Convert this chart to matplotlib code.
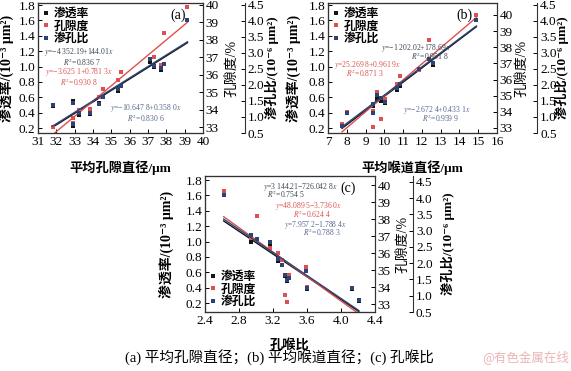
import numpy as np
import matplotlib
matplotlib.use("Agg")
import matplotlib.pyplot as plt
from matplotlib.lines import Line2D

plt.rcParams['font.family'] = ['Liberation Serif', 'Noto Sans CJK SC', 'DejaVu Sans']
plt.rcParams['mathtext.fontset'] = 'stix'
plt.rcParams['axes.unicode_minus'] = False

# -- (a) mean pore diameter
pore_d = [31.8, 32.9, 32.9, 33.25, 33.85, 34.3, 34.55, 35.35, 35.55, 37.1, 37.3, 37.7, 37.85, 39.15]
perm_a = [0.48, 0.55, 0.22, 0.37, 0.38, 0.52, 0.60, 0.68, 0.74, 1.06, 1.00, 0.95, 1.03, 1.60]
poro_a = [33.03, 33.52, 33.21, 33.96, 34.05, 34.71, 35.19, 35.68, 36.16, 36.9, 37.04, 36.57, 38.41, 39.87]
ratio_a = [1.38, 1.45, 0.78, 1.13, 1.13, 1.40, 1.64, 1.86, 1.98, 2.82, 2.58, 2.53, 2.65, 4.02]

# -- (b) mean throat diameter
throat_d = [7.75, 8.0, 9.4, 9.4, 9.6, 9.8, 10.05, 10.65, 10.85, 11.85, 12.4, 12.6, 14.9]
perm_b = [0.22, 0.40, 0.48, 0.40, 0.58, 0.55, 0.53, 0.69, 0.75, 0.97, 1.10, 1.02, 1.60]
poro_b = [33.24, 34.0, 34.05, 33.09, 35.24, 33.57, 34.81, 35.7, 36.24, 36.62, 38.47, 37.04, 40.0]
ratio_b = [0.72, 1.14, 1.42, 1.12, 1.68, 1.59, 1.47, 1.90, 2.02, 2.49, 2.80, 2.70, 4.03]

# -- (c) pore-throat ratio
pt_ratio = [2.62, 2.94, 3.01, 3.17, 3.26, 3.31, 3.34, 3.36, 3.39, 3.59, 3.60, 4.13, 4.21]
perm_c = [1.60, 1.00, 1.03, 0.96, 0.74, 0.69, 0.55, 0.48, 0.52, 0.61, 0.38, 0.38, 0.22]
poro_c = [39.64, 36.89, 38.2, 36.3, 36.03, 35.58, 33.54, 33.09, 34.72, 35.17, 33.99, 33.95, 33.23]
ratio_c = [4.09, 2.86, 2.74, 2.64, 2.12, 1.96, 1.63, 1.48, 1.53, 1.77, 1.25, 1.23, 0.87]

eq_a = ["$y$=−4 352.19+144.01$x$", "$R^2$=0.836 7",
        "$y$=−3.625 1+0.781 3$x$", "$R^2$=0.930 8",
        "$y$=−10.647 8+0.358 0$x$", "$R^2$=0.830 6"]
eq_b = ["$y$=−1 202.02+178.69$x$", "$R^2$=0.951 8",
        "$y$=25.269 8+0.961 9$x$", "$R^2$=0.871 3",
        "$y$=−2.672 4+0.433 1$x$", "$R^2$=0.959 9"]
eq_c = ["$y$=3 144.21−726.042 8$x$", "$R^2$=0.754 5",
        "$y$=48.089 5−3.736 0$x$", "$R^2$=0.624 4",
        "$y$=7.957 2−1.788 4$x$", "$R^2$=0.788 3"]

series_names = ["渗透率", "孔隙度", "渗孔比"]
c_black, c_red, c_blue = "#151515", "#df4f4f", "#2c4474"
eq_colors = ["#3b4652", "#3b4652", "#d9534f", "#d9534f", "#56698c", "#56698c"]

fig = plt.figure(figsize=(5.71, 3.71), dpi=100)


def make_panel(rect, x, perm, poro, ratio, xlim, xticks, ylims, offset, label_x, tag, tag_pos,
               eqs, eq_pos, leg_loc, leg_anchor):
    ax = fig.add_axes(rect)
    ax2 = ax.twinx()
    ax3 = ax.twinx()
    ax3.spines["right"].set_position(("outward", offset))
    for a in (ax, ax2, ax3):
        a.tick_params(direction="in", labelsize=9.5, length=3, width=0.7, pad=2)
        for s in a.spines.values():
            s.set_linewidth(0.8)
            s.set_color("#333333")

    x = np.asarray(x)
    xs = np.array([x.min(), x.max()])
    handles = []
    for a, y, c in ((ax, perm, c_black), (ax2, poro, c_red), (ax3, ratio, c_blue)):
        k, b = np.polyfit(x, y, 1)
        a.plot(xs, k * xs + b, color=c, lw=1.0)
        a.plot(x, y, "s", ms=2.6, color=c, mew=0)
        handles.append(Line2D([], [], ls="", marker="s", ms=2.6, color=c, mew=0))

    ax.set_xlim(*xlim)
    ax.set_xticks(xticks)
    ax.set_ylim(*ylims[0])
    ax.set_yticks(np.arange(0.2, 1.81, 0.2))
    ax.yaxis.set_major_formatter(matplotlib.ticker.FormatStrFormatter("%.1f"))
    ax2.set_ylim(*ylims[1])
    ax2.set_yticks(range(33, 41))
    ax3.set_ylim(*ylims[2])
    ax3.set_yticks(np.arange(0.5, 4.51, 0.5))
    ax3.yaxis.set_major_formatter(matplotlib.ticker.FormatStrFormatter("%.1f"))

    ax.set_ylabel("渗透率/(10⁻³ μm²)", fontsize=10, fontweight="bold")
    ax2.set_ylabel("孔隙度/%", fontsize=10)
    ax3.set_ylabel("渗孔比/(10⁻⁶ μm²)", fontsize=9.5, fontweight="bold")
    ax.yaxis.set_label_coords(label_x[0], 0.5)
    ax2.yaxis.set_label_coords(label_x[1], 0.5)
    ax3.yaxis.set_label_coords(label_x[2], 0.5)

    ax3.text(tag_pos[0], tag_pos[1], tag, transform=ax.transAxes, fontsize=10,
             ha="center", va="center")
    for t, (px, py), c in zip(eqs, eq_pos, eq_colors):
        ax3.text(px, py, t, transform=ax.transAxes, fontsize=5.5, color=c,
                 ha="center", va="center")

    ax3.legend(handles, series_names, loc=leg_loc, bbox_to_anchor=leg_anchor, frameon=False,
               prop={"family": "Noto Sans CJK SC", "size": 8.5, "weight": "bold"},
               handlelength=0.6, handletextpad=0.4, labelspacing=-0.05, borderaxespad=0.15,
               borderpad=0.2)
    return ax


ax_a = make_panel([0.0666, 0.6415, 0.289, 0.3504], pore_d, perm_a, poro_a, ratio_a,
                  (31, 40), range(31, 41), [(0.135, 1.826), (32.66, 40.11), (0.5, 4.56)], 30,
                  (-0.145, 1.133, 1.376), "(a)", (0.85, 0.905), eq_a,
                  [(0.245, 0.623), (0.265, 0.546), (0.25, 0.469), (0.25, 0.392),
                   (0.655, 0.192), (0.655, 0.11)],
                  "upper left", (0.0, 1.0))
ax_a.set_xlabel("平均孔隙直径/μm", fontsize=9.5, fontweight="bold")
ax_a.xaxis.set_label_coords(0.5, -0.21)

ax_b = make_panel([0.5744, 0.6415, 0.296, 0.3504], throat_d, perm_b, poro_b, ratio_b,
                  (7, 16), range(7, 17), [(0.135, 1.826), (32.69, 40.74), (0.5, 4.56)], 29,
                  (-0.16, 1.107, 1.345), "(b)", (0.81, 0.905), eq_b,
                  [(0.52, 0.654), (0.6, 0.592), (0.237, 0.523), (0.219, 0.462),
                   (0.645, 0.177), (0.663, 0.11)],
                  "upper left", (0.0, 1.0))
ax_b.set_xlabel("平均喉道直径/μm", fontsize=9.5, fontweight="bold")
ax_b.xaxis.set_label_coords(0.5, -0.21)

ax_c = make_panel([0.359, 0.159, 0.2977, 0.3666], pt_ratio, perm_c, poro_c, ratio_c,
                  (2.4, 4.4), [2.4, 2.8, 3.2, 3.6, 4.0, 4.4], [(0.083, 1.852), (32.53, 40.53), (0.5, 4.68)], 27.5,
                  (-0.182, 1.124, 1.39), "(c)", (0.84, 0.91), eq_c,
                  [(0.56, 0.92), (0.475, 0.864), (0.61, 0.78), (0.63, 0.72),
                   (0.65, 0.64), (0.69, 0.584)],
                  "lower left", (0.0, 0.0))
ax_c.xaxis.set_major_formatter(matplotlib.ticker.FormatStrFormatter("%.1f"))
ax_c.set_xlabel("孔喉比", fontsize=9.5, fontweight="bold")
ax_c.xaxis.set_label_coords(0.5, -0.2)

fig.text(0.49, 0.038, "(a) 平均孔隙直径；(b) 平均喉道直径；(c) 孔喉比", fontsize=10.5,
         ha="center", va="center")
fig.text(0.92, 0.038, "@有色金属在线", fontsize=9, color="#ebb4b4", ha="center", va="center",
         family=["Noto Sans CJK SC", "DejaVu Sans"])

fig.savefig("out.png", dpi=100)
